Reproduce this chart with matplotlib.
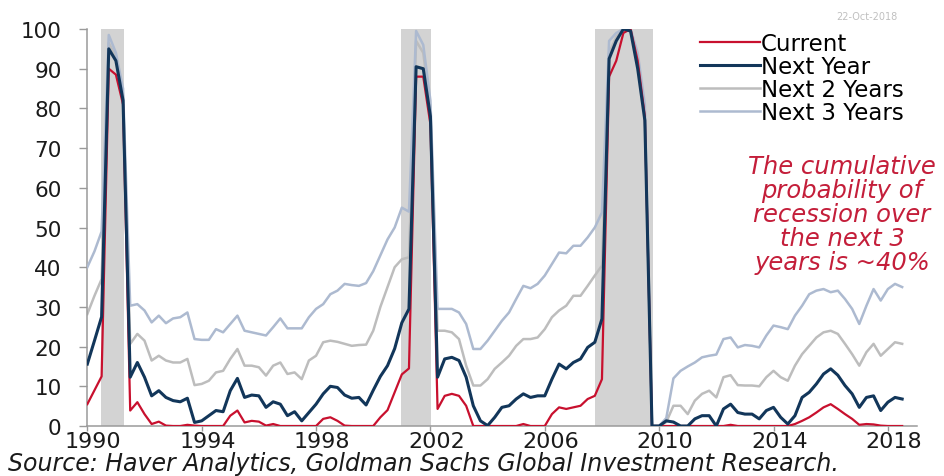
import matplotlib.pyplot as plt
import matplotlib.transforms as mtransforms
import numpy as np

# quarterly dates, 1990Q1 .. 2018Q3
quarters = np.arange(1990, 2018.75, 0.25)

current = [5.5, 9, 12.5, 90,  88.5, 81, 3.9, 6.0,  3.0, 0.5, 1.1, 0.1,  0, 0, 0.3, 0.1,
           0, 0, 0, 0,  2.6, 3.9, 0.9, 1.3,  1.1, 0.1, 0.5, 0,  0, 0, 0, 0,
           0, 1.8, 2.2, 1.3,  0.1, 0, 0, 0,  0, 2.2, 4.0, 8.5,  13, 14.5, 88, 88,
           76, 4.3, 7.6, 8.1,  7.6, 5.1, 0, 0,  0, 0, 0, 0,  0, 0.5, 0, 0,
           0, 3.0, 4.7, 4.3,  4.7, 5.1, 6.8, 7.6,  11.8, 88, 92, 99,  100, 92, 78, 0,
           0, 0, 0, 0,  0, 0, 0, 0,  0, 0, 0.3, 0,  0, 0, 0, 0,
           0, 0, 0, 0.5,  1.3, 2.2, 3.4, 4.7,  5.5, 4.3, 3.0, 1.8,  0.3, 0.5, 0.4, 0.1,
           0, 0, 0]

next_year = [15.6, 21.5, 27.5, 95,  92, 82, 12.3, 16.0,  12.3, 7.6, 8.9, 7.2,  6.4, 6.1, 7.0, 0.9,
             1.3, 2.6, 3.9, 3.6,  8.9, 12.0, 7.2, 7.8,  7.6, 4.7, 6.1, 5.5,  2.6, 3.6, 1.3, 3.4,
             5.5, 8.1, 10.0, 9.7,  7.8, 7.0, 7.2, 5.3,  9.0, 12.5, 15.2, 19.5,  26, 29.5, 90.5, 90,
             78, 12.3, 16.9, 17.3,  16.5, 12.3, 5.1, 1.3,  0.1, 2.2, 4.7, 5.1,  6.8, 8.1, 7.2, 7.6,
             7.6, 11.8, 15.6, 14.4,  16.0, 16.9, 19.8, 21.1,  27.0, 92.5, 97, 100,  99.5, 90, 77, 0,
             0, 1.3, 1.0, 0,  0, 1.8, 2.6, 2.6,  0, 4.3, 5.5, 3.4,  3.0, 3.0, 1.8, 3.9,
             4.7, 2.2, 0.5, 2.6,  7.2, 8.5, 10.6, 13.1,  14.4, 12.8, 10.2, 8.1,  4.7, 7.2, 7.6, 3.9,
             6.0, 7.2, 6.8]

next_2_years = [28.2, 32.8, 37, 96.5,  93, 83, 20.7, 23.2,  21.5, 16.5, 17.7, 16.5,  16.0, 16.0, 16.9, 10.3,
                10.6, 11.4, 13.5, 13.9,  16.9, 19.4, 15.2, 15.2,  14.8, 12.7, 15.2, 16.0,  13.1, 13.5, 11.8, 16.5,
                17.7, 21.1, 21.5, 21.2,  20.7, 20.2, 20.4, 20.5,  24, 30, 35, 40,  42, 42.5, 97, 94,
                80, 24.0, 24.0, 23.6,  21.9, 15.2, 10.2, 10.2,  11.8, 14.4, 16.0, 17.7,  20.2, 21.9, 21.9, 22.3,
                24.4, 27.4, 29.1, 30.3,  32.8, 32.8, 35.3, 37.9,  40.4, 94, 98, 100,  100, 92, 79, 0,
                0, 1, 5.1, 5.1,  3.0, 6.4, 8.1, 8.9,  7.2, 12.3, 12.8, 10.3,  10.2, 10.2, 10.0, 12.3,
                13.9, 12.3, 11.4, 15.2,  18.1, 20.2, 22.3, 23.6,  24.0, 23.2, 20.7, 18.1,  15.2, 18.6, 20.7, 17.7,
                19.4, 21.1, 20.7]

next_3_years = [40, 44, 49, 98.5,  94, 85, 30.3, 30.7,  29.1, 26.1, 27.8, 25.9,  27.1, 27.4, 28.6, 21.9,
                21.7, 21.7, 24.4, 23.6,  25.7, 27.8, 24.0, 23.6,  23.2, 22.8, 24.9, 27.1,  24.6, 24.6, 24.6, 27.4,
                29.5, 30.7, 33.2, 34.1,  35.8, 35.5, 35.3, 36,  39, 43, 47, 50,  55, 54, 99.5, 96,
                82, 29.5, 29.5, 29.5,  28.6, 25.7, 19.4, 19.4,  21.5, 24.0, 26.5, 28.6,  32.0, 35.3, 34.7, 35.8,
                37.9, 40.8, 43.7, 43.5,  45.4, 45.4, 47.5, 50.0,  53.8, 97, 99, 100,  100, 94, 81, 0,
                0, 2, 12, 13.9,  15, 16.0, 17.3, 17.7,  18, 21.9, 22.3, 19.8,  20.4, 20.2, 19.8, 22.8,
                25.3, 24.9, 24.4, 27.8,  30.3, 33.2, 34.1, 34.5,  33.7, 34.1, 32.0, 29.5,  25.7, 30.3, 34.5, 31.6,
                34.5, 35.8, 35.0]

# recession periods (shaded)
rec_start = [1990.47, 2000.96, 2007.76]
rec_end = [1991.3, 2002.03, 2009.78]

year_ticks = [1990, 1994, 1998, 2002, 2006, 2010, 2014, 2018]

plt.rcParams['font.family'] = 'DejaVu Sans'

fig = plt.figure(figsize=(9.45, 4.77), dpi=100)
ax = fig.add_axes([0.0924, 0.1048, 0.8780, 0.8323])

for s, e in zip(rec_start, rec_end):
    ax.axvspan(s, e, color='#d3d3d3', lw=0, zorder=1)

ax.plot(quarters, next_2_years, color='#bdbdbd', lw=1.8, label='Next 2 Years', zorder=2)
ax.plot(quarters, next_3_years, color='#adbad0', lw=1.8, label='Next 3 Years', zorder=3)
ax.plot(quarters, current, color='#c8102e', lw=1.6, label='Current', zorder=4)
ax.plot(quarters, next_year, color='#12365a', lw=2.2, label='Next Year', zorder=5)

ax.set_xlim(1990, 2019.02)
ax.set_ylim(0, 100)
ax.set_yticks(np.arange(0, 101, 10))
ax.set_xticks(year_ticks)

for sp in ['top', 'right']:
    ax.spines[sp].set_visible(False)
for sp in ['left', 'bottom']:
    ax.spines[sp].set_color('#9a9a9a')
    ax.spines[sp].set_linewidth(1.1)

ax.tick_params(axis='y', length=5.5, width=1, color='#9a9a9a', labelsize=15.5, pad=13, labelcolor='#1a1a1a')
ax.tick_params(axis='x', length=3.5, width=1, color='#9a9a9a', labelsize=16, pad=0, labelcolor='#1a1a1a')

# year labels sit a little right of their ticks in the original
shift = mtransforms.ScaledTranslation(6 / 100, 0, fig.dpi_scale_trans)
for lab in ax.get_xticklabels():
    lab.set_transform(lab.get_transform() + shift)

# legend in the same order as the original
handles, labels = ax.get_legend_handles_labels()
order = [2, 3, 0, 1]
ax.legend([handles[i] for i in order], [labels[i] for i in order],
          loc='upper left', bbox_to_anchor=(700 / 945, 1 - 33 / 477), bbox_transform=fig.transFigure,
          frameon=False, fontsize=16.5, handlelength=2.6, handletextpad=0.05,
          labelspacing=0.0, borderpad=0, borderaxespad=0)

fig.text(842 / 945, 1 - 215 / 477,
         'The cumulative\nprobability of\nrecession over\nthe next 3\nyears is ~40%',
         ha='center', va='center', multialignment='center', fontsize=17.5, style='italic',
         color='#c41e3a', linespacing=1.0)

fig.text(8 / 945, 1 - 471 / 477,
         'Source: Haver Analytics, Goldman Sachs Global Investment Research.',
         ha='left', va='baseline', fontsize=17, style='italic', color='#1a1a1a')

fig.text(898 / 945, 1 - 20 / 477, '22-Oct-2018', ha='right', va='baseline',
         fontsize=7, color='#c0c0c0')

fig.savefig('out.png', dpi=100)
